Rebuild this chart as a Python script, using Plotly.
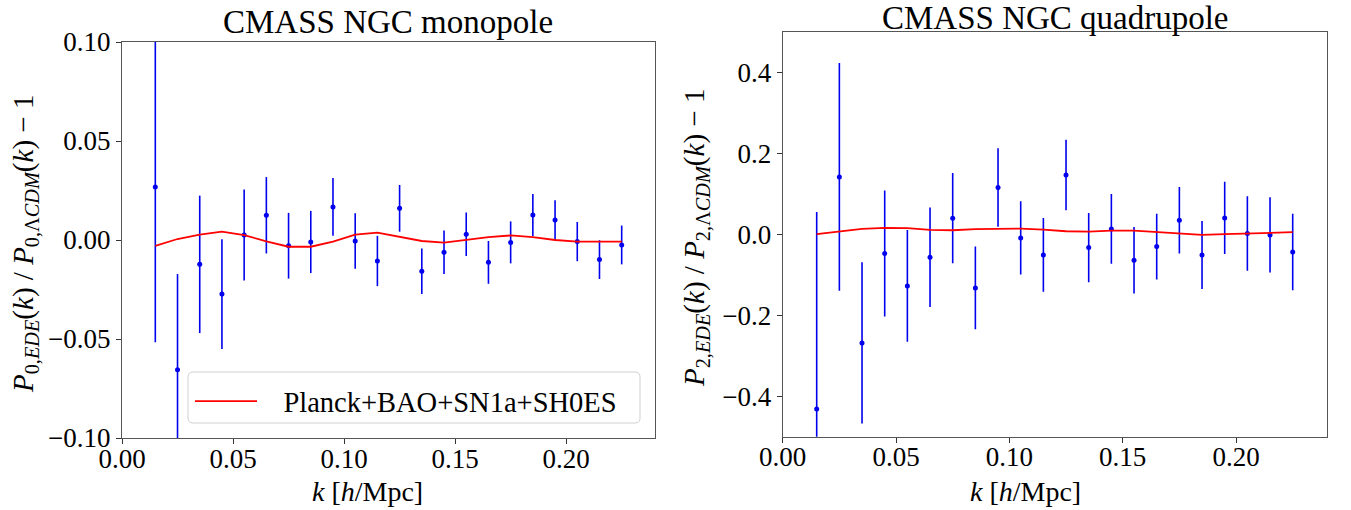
import plotly.graph_objects as go

W, H = 1351, 510

k = [0.015, 0.025, 0.035, 0.045, 0.055, 0.065, 0.075, 0.085, 0.095, 0.105, 0.115,
     0.125, 0.135, 0.145, 0.155, 0.165, 0.175, 0.185, 0.195, 0.205, 0.215, 0.225]

# monopole residuals
mono_data = [0.0268, -0.0655, -0.0123, -0.0273, 0.0025, 0.0125, -0.0029, -0.0010, 0.0167, -0.0005, -0.0106,
             0.0160, -0.0158, -0.0062, 0.0029, -0.0113, -0.0012, 0.0126, 0.0101, -0.0008, -0.0099, -0.0025]
mono_err = [0.0785, 0.0483, 0.0347, 0.0277, 0.0230, 0.0193, 0.0166, 0.0157, 0.0146, 0.0140, 0.0127,
            0.0118, 0.0115, 0.0110, 0.0110, 0.0108, 0.0106, 0.0106, 0.0100, 0.0099, 0.0098, 0.0098]
mono_model = [-0.0030, 0.0005, 0.0027, 0.0042, 0.0025, -0.0007, -0.0034, -0.0034, -0.0008, 0.0027, 0.0037,
              0.0017, -0.0005, -0.0013, 0.0000, 0.0015, 0.0023, 0.0015, 0.0000, -0.0008, -0.0008, -0.0008]

# quadrupole residuals
quad_data = [-0.4314, 0.1415, -0.2684, -0.0478, -0.1276, -0.0568, 0.0395, -0.1326, 0.1151, -0.0091, -0.0511,
             0.1464, -0.0330, 0.0131, -0.0642, -0.0306, 0.0346, -0.0511, 0.0403, 0.0016, -0.0017, -0.0437]
quad_err = [0.486, 0.281, 0.199, 0.1555, 0.138, 0.123, 0.1115, 0.102, 0.097, 0.0903, 0.091,
            0.087, 0.0856, 0.086, 0.082, 0.081, 0.082, 0.084, 0.089, 0.092, 0.093, 0.0945]
quad_model = [0.0000, 0.0073, 0.0130, 0.0156, 0.0150, 0.0107, 0.0098, 0.0123, 0.0140, 0.0140, 0.0115,
              0.0073, 0.0065, 0.0090, 0.0090, 0.0057, 0.0008, -0.0016, 0.0000, 0.0016, 0.0033, 0.0050]

titles = ["CMASS NGC monopole", "CMASS NGC quadrupole"]
legend_label = "Planck+BAO+SN1a+SH0ES"
xlabel = "<i>k</i> [<i>h</i>/Mpc]"
ylabels = ["<i>P</i><sub>0,<i>EDE</i></sub>(<i>k</i>) / <i>P</i><sub>0,Λ<i>CDM</i></sub>(<i>k</i>) − 1",
           "<i>P</i><sub>2,<i>EDE</i></sub>(<i>k</i>) / <i>P</i><sub>2,Λ<i>CDM</i></sub>(<i>k</i>) − 1"]

FONT = "Liberation Serif"
BLUE = "#0000ee"
RED = "#ff0000"

fig = go.Figure()

def px_x(p):
    return p / W

def px_y(p):
    return 1 - p / H

for i, (d, e, m) in enumerate([(mono_data, mono_err, mono_model), (quad_data, quad_err, quad_model)]):
    xa = "x" if i == 0 else "x2"
    ya = "y" if i == 0 else "y2"
    fig.add_trace(go.Scatter(x=k, y=d, mode="markers", xaxis=xa, yaxis=ya,
                             marker=dict(color=BLUE, size=5),
                             error_y=dict(type="data", array=e, color=BLUE, thickness=1.6, width=0),
                             showlegend=False))
    fig.add_trace(go.Scatter(x=k, y=m, mode="lines", xaxis=xa, yaxis=ya,
                             line=dict(color=RED, width=1.8),
                             name="\u00a0\u00a0\u00a0" + legend_label, showlegend=(i == 0)))

axis_common = dict(showline=True, linecolor="#555555", linewidth=1.2, mirror=True,
                   ticks="outside", ticklen=5, tickcolor="#333333", tickwidth=1,
                   showgrid=False, zeroline=False, automargin=False,
                   tickfont=dict(family=FONT, size=27, color="black"))

fig.update_layout(
    width=W, height=H,
    margin=dict(l=0, r=0, t=0, b=0, autoexpand=False),
    paper_bgcolor="white", plot_bgcolor="white",
    xaxis=dict(domain=[px_x(122), px_x(655)], range=[0, 0.24], anchor="y",
               tickvals=[0, 0.05, 0.10, 0.15, 0.20], tickformat=".2f",
               ticklabelstandoff=-9, **axis_common),
    yaxis=dict(domain=[px_y(438), px_y(42)], range=[-0.1, 0.1], anchor="x",
               tickvals=[-0.1, -0.05, 0, 0.05, 0.1], tickformat=".2f", **axis_common),
    xaxis2=dict(domain=[px_x(782.7), px_x(1326.7)], range=[0, 0.24], anchor="y2",
                tickvals=[0, 0.05, 0.10, 0.15, 0.20], tickformat=".2f",
                ticklabelstandoff=-9, **axis_common),
    yaxis2=dict(domain=[px_y(436.7), px_y(31.7)], range=[-0.5, 0.5], anchor="x2",
                tickvals=[-0.4, -0.2, 0, 0.2, 0.4], tickformat=".1f", **axis_common),
    legend=dict(x=px_x(190), y=px_y(376), xanchor="left", yanchor="top",
                bgcolor="rgba(0,0,0,0)", borderwidth=0,
                itemwidth=62,
                font=dict(family=FONT, size=28.5, color="black")),
    font=dict(family=FONT, color="black"),
)

# legend frame (rounded, like the reference)
x0, x1, y0, y1, r = 188, 640, 372, 423, 5
X = lambda p: px_x(p)
Y = lambda p: px_y(p)
path = (f"M {X(x0 + r)},{Y(y0)} L {X(x1 - r)},{Y(y0)} Q {X(x1)},{Y(y0)} {X(x1)},{Y(y0 + r)} "
        f"L {X(x1)},{Y(y1 - r)} Q {X(x1)},{Y(y1)} {X(x1 - r)},{Y(y1)} "
        f"L {X(x0 + r)},{Y(y1)} Q {X(x0)},{Y(y1)} {X(x0)},{Y(y1 - r)} "
        f"L {X(x0)},{Y(y0 + r)} Q {X(x0)},{Y(y0)} {X(x0 + r)},{Y(y0)} Z")
fig.add_shape(type="path", path=path, xref="paper", yref="paper", layer="above",
              fillcolor="rgba(255,255,255,0.8)", line=dict(color="#d0d0d0", width=1))

annots = [
    dict(text=titles[0], x=px_x(388), y=px_y(22), size=33, angle=0),
    dict(text=titles[1], x=px_x(1055), y=px_y(18), size=33, angle=0),
    dict(text=xlabel, x=px_x(367), y=px_y(491), size=28, angle=0),
    dict(text=xlabel, x=px_x(1025), y=px_y(491), size=28, angle=0),
    dict(text=ylabels[0], x=px_x(25), y=px_y(244), size=29, angle=-90),
    dict(text=ylabels[1], x=px_x(696), y=px_y(238), size=29, angle=-90),
]
for a in annots:
    fig.add_annotation(text=a["text"], x=a["x"], y=a["y"], xref="paper", yref="paper",
                       xanchor="center", yanchor="middle", showarrow=False, borderpad=0,
                       textangle=a["angle"], font=dict(family=FONT, size=a["size"], color="black"))

fig.write_html("out.html")
